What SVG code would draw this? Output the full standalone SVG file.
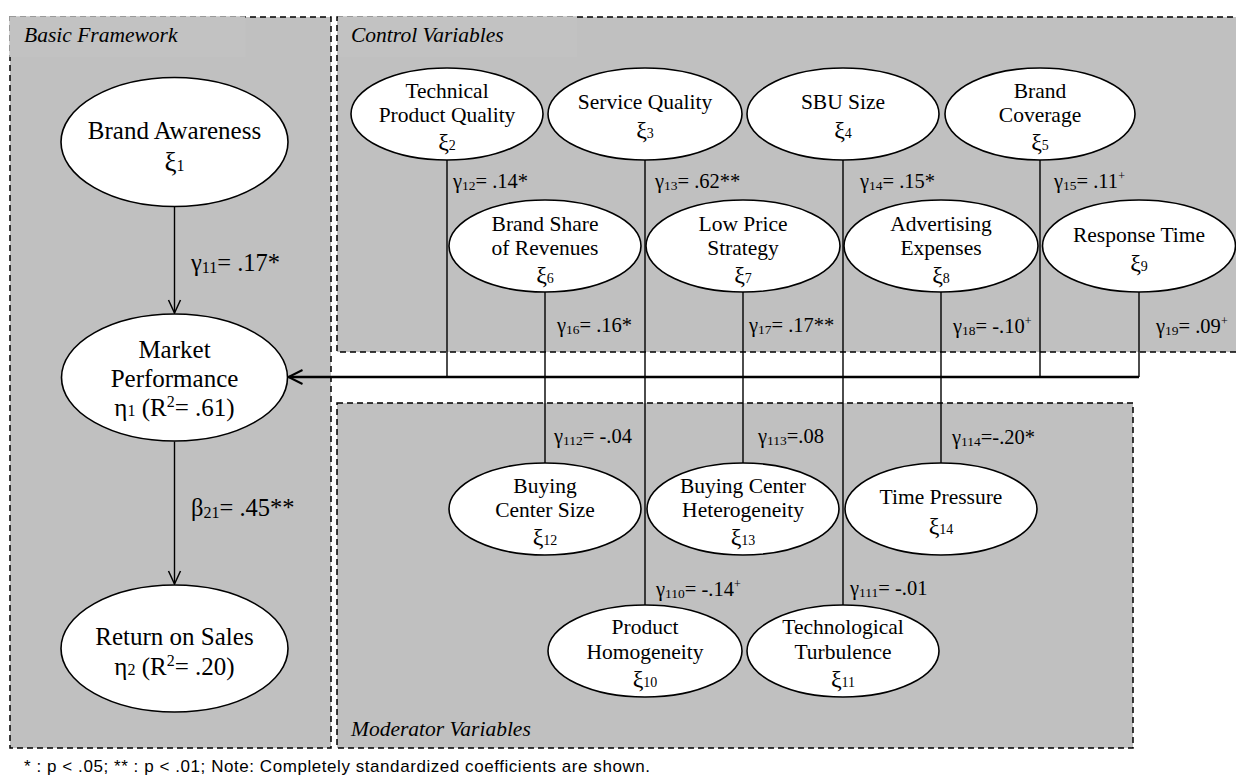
<svg xmlns="http://www.w3.org/2000/svg" width="1236" height="776" viewBox="0 0 1236 776">
<defs>
<style>
.panel{fill:#c0c0c0;stroke:#000;stroke-width:1.5;stroke-dasharray:6 4}
.cover{fill:#c2c2c2;stroke:none}
.plabel{font-family:"Liberation Serif","Times New Roman",serif;font-style:italic;font-size:21.5px;fill:#000}
.node ellipse{fill:#fff;stroke:#000;stroke-width:1.6}
.nt{font-family:"Liberation Serif","Times New Roman",serif;font-size:21.5px;fill:#000;text-anchor:middle}
.nb{font-family:"Liberation Serif","Times New Roman",serif;font-size:25px;fill:#000;text-anchor:middle}
.sub{font-size:14px}
.nb .sub{font-size:16px}
.xi{font-size:24px}
.nb .xi{font-size:27px}
.coef{font-family:"Liberation Serif","Times New Roman",serif;font-size:20.5px;fill:#000}
.coefb{font-family:"Liberation Serif","Times New Roman",serif;font-size:24.5px;fill:#000}
.cs{font-size:13.5px}
.coefb .cs{font-size:16px}
.sup{font-size:12px}
.ln{stroke:#000;stroke-width:1.4;fill:none}
.lnb{stroke:#000;stroke-width:2.4;fill:none}
.foot{font-family:"Liberation Sans",Arial,sans-serif;font-size:17px;fill:#000}
</style>
<marker id="arr" markerUnits="userSpaceOnUse" markerWidth="16" markerHeight="16" refX="14" refY="7" orient="auto">
<path d="M1,1 L14,7 L1,13" fill="none" stroke="#000" stroke-width="1.5"/>
</marker>
<marker id="arrb" markerUnits="userSpaceOnUse" markerWidth="18" markerHeight="18" refX="15" refY="8" orient="auto">
<path d="M1,1 L15,8 L1,15" fill="none" stroke="#000" stroke-width="2"/>
</marker>
</defs>
<rect width="1236" height="776" fill="#fff"/>

<g id="panels">
<rect class="panel" x="10" y="17" width="321" height="731"/>
<rect class="panel" x="337" y="17" width="902" height="335"/>
<rect class="panel" x="337" y="403" width="796" height="345"/>
<rect class="cover" x="9.3" y="16.3" width="236" height="40.7"/>
<rect class="cover" x="338" y="16.3" width="239" height="40.7"/>
<text class="plabel" x="24" y="42">Basic Framework</text>
<text class="plabel" x="351" y="42">Control Variables</text>
<text class="plabel" x="351" y="736">Moderator Variables</text>
</g>

<g id="connectors">
<path class="ln" d="M174.5,206.5 V313" marker-end="url(#arr)"/>
<path class="ln" d="M174.5,441.5 V584" marker-end="url(#arr)"/>
<path class="ln" d="M447,160 V377"/>
<path class="ln" d="M545,292 V463"/>
<path class="ln" d="M645,160 V605"/>
<path class="ln" d="M743,292 V463"/>
<path class="ln" d="M843,160 V605"/>
<path class="ln" d="M941,292 V463"/>
<path class="ln" d="M1040,160 V377"/>
<path class="ln" d="M1139,292 V377"/>
<path class="lnb" d="M1139,377 H288.5" marker-end="url(#arrb)"/>
<text class="coefb" x="191" y="271">γ<tspan class="cs" dy="2">11</tspan><tspan dy="-2">= .17*</tspan></text>
<text class="coefb" x="191" y="516">β<tspan class="cs" dy="2">21</tspan><tspan dy="-2">= .45**</tspan></text>
<text class="coef" x="453" y="188">γ<tspan class="cs" dy="2">12</tspan><tspan dy="-2">= .14*</tspan></text>
<text class="coef" x="655" y="188">γ<tspan class="cs" dy="2">13</tspan><tspan dy="-2">= .62**</tspan></text>
<text class="coef" x="860" y="188">γ<tspan class="cs" dy="2">14</tspan><tspan dy="-2">= .15*</tspan></text>
<text class="coef" x="1054" y="188">γ<tspan class="cs" dy="2">15</tspan><tspan dy="-2">= .11</tspan><tspan class="sup" dy="-8">+</tspan></text>
<text class="coef" x="557" y="332">γ<tspan class="cs" dy="2">16</tspan><tspan dy="-2">= .16*</tspan></text>
<text class="coef" x="749" y="332">γ<tspan class="cs" dy="2">17</tspan><tspan dy="-2">= .17**</tspan></text>
<text class="coef" x="953" y="333">γ<tspan class="cs" dy="2">18</tspan><tspan dy="-2">= -.10</tspan><tspan class="sup" dy="-8">+</tspan></text>
<text class="coef" x="1156" y="333">γ<tspan class="cs" dy="2">19</tspan><tspan dy="-2">= .09</tspan><tspan class="sup" dy="-8">+</tspan></text>
<text class="coef" x="554" y="443">γ<tspan class="cs" dy="2">112</tspan><tspan dy="-2">= -.04</tspan></text>
<text class="coef" x="758" y="443">γ<tspan class="cs" dy="2">113</tspan><tspan dy="-2">=.08</tspan></text>
<text class="coef" x="952" y="444">γ<tspan class="cs" dy="2">114</tspan><tspan dy="-2">=-.20*</tspan></text>
<text class="coef" x="656" y="596">γ<tspan class="cs" dy="2">110</tspan><tspan dy="-2">= -.14</tspan><tspan class="sup" dy="-8">+</tspan></text>
<text class="coef" x="850" y="595">γ<tspan class="cs" dy="2">111</tspan><tspan dy="-2">= -.01</tspan></text>
</g>

<g id="n-brand-awareness" class="node">
<ellipse cx="174.5" cy="142" rx="113.5" ry="64.5"/>
<text class="nb" x="174.5" y="139">Brand Awareness</text>
<text class="nb" x="174.5" y="171"><tspan class="xi">ξ</tspan><tspan class="sub">1</tspan></text>
</g>
<g id="n-market-performance" class="node">
<ellipse cx="174.5" cy="377.5" rx="113" ry="63.5"/>
<text class="nb" x="174.5" y="358">Market</text>
<text class="nb" x="174.5" y="387">Performance</text>
<text class="nb" x="174.5" y="416">η<tspan class="sub">1</tspan> (R<tspan class="sub" dy="-9">2</tspan><tspan dy="9">= .61)</tspan></text>
</g>
<g id="n-return-on-sales" class="node">
<ellipse cx="174.5" cy="648.5" rx="113.5" ry="63.5"/>
<text class="nb" x="174.5" y="645">Return on Sales</text>
<text class="nb" x="174.5" y="675">η<tspan class="sub">2</tspan> (R<tspan class="sub" dy="-9">2</tspan><tspan dy="9">= .20)</tspan></text>
</g>

<g id="n-xi2" class="node">
<ellipse cx="447" cy="114" rx="96" ry="46"/>
<text class="nt" x="447" y="98">Technical</text>
<text class="nt" x="447" y="122">Product Quality</text>
<text class="nt" x="447" y="150"><tspan class="xi">ξ</tspan><tspan class="sub">2</tspan></text>
</g>
<g id="n-xi3" class="node">
<ellipse cx="645" cy="114" rx="97" ry="46"/>
<text class="nt" x="645" y="109">Service Quality</text>
<text class="nt" x="645" y="138"><tspan class="xi">ξ</tspan><tspan class="sub">3</tspan></text>
</g>
<g id="n-xi4" class="node">
<ellipse cx="843" cy="114" rx="96" ry="46"/>
<text class="nt" x="843" y="109">SBU Size</text>
<text class="nt" x="843" y="138"><tspan class="xi">ξ</tspan><tspan class="sub">4</tspan></text>
</g>
<g id="n-xi5" class="node">
<ellipse cx="1040" cy="114" rx="95" ry="46"/>
<text class="nt" x="1040" y="98">Brand</text>
<text class="nt" x="1040" y="122">Coverage</text>
<text class="nt" x="1040" y="150"><tspan class="xi">ξ</tspan><tspan class="sub">5</tspan></text>
</g>
<g id="n-xi6" class="node">
<ellipse cx="545" cy="246" rx="96" ry="46"/>
<text class="nt" x="545" y="231">Brand Share</text>
<text class="nt" x="545" y="255">of Revenues</text>
<text class="nt" x="545" y="283"><tspan class="xi">ξ</tspan><tspan class="sub">6</tspan></text>
</g>
<g id="n-xi7" class="node">
<ellipse cx="743" cy="246" rx="97" ry="46"/>
<text class="nt" x="743" y="231">Low Price</text>
<text class="nt" x="743" y="255">Strategy</text>
<text class="nt" x="743" y="283"><tspan class="xi">ξ</tspan><tspan class="sub">7</tspan></text>
</g>
<g id="n-xi8" class="node">
<ellipse cx="941" cy="246" rx="97" ry="46"/>
<text class="nt" x="941" y="231">Advertising</text>
<text class="nt" x="941" y="255">Expenses</text>
<text class="nt" x="941" y="283"><tspan class="xi">ξ</tspan><tspan class="sub">8</tspan></text>
</g>
<g id="n-xi9" class="node">
<ellipse cx="1139" cy="246" rx="96.5" ry="46"/>
<text class="nt" x="1139" y="242">Response Time</text>
<text class="nt" x="1139" y="271"><tspan class="xi">ξ</tspan><tspan class="sub">9</tspan></text>
</g>
<g id="n-xi12" class="node">
<ellipse cx="545" cy="509" rx="96" ry="46"/>
<text class="nt" x="545" y="493">Buying</text>
<text class="nt" x="545" y="517">Center Size</text>
<text class="nt" x="545" y="545"><tspan class="xi">ξ</tspan><tspan class="sub">12</tspan></text>
</g>
<g id="n-xi13" class="node">
<ellipse cx="743" cy="509" rx="96" ry="46"/>
<text class="nt" x="743" y="493">Buying Center</text>
<text class="nt" x="743" y="517">Heterogeneity</text>
<text class="nt" x="743" y="545"><tspan class="xi">ξ</tspan><tspan class="sub">13</tspan></text>
</g>
<g id="n-xi14" class="node">
<ellipse cx="941" cy="509" rx="96" ry="46"/>
<text class="nt" x="941" y="504">Time Pressure</text>
<text class="nt" x="941" y="534"><tspan class="xi">ξ</tspan><tspan class="sub">14</tspan></text>
</g>
<g id="n-xi10" class="node">
<ellipse cx="645" cy="651" rx="97" ry="46"/>
<text class="nt" x="645" y="634">Product</text>
<text class="nt" x="645" y="659">Homogeneity</text>
<text class="nt" x="645" y="687"><tspan class="xi">ξ</tspan><tspan class="sub">10</tspan></text>
</g>
<g id="n-xi11" class="node">
<ellipse cx="843" cy="651" rx="96" ry="46"/>
<text class="nt" x="843" y="634">Technological</text>
<text class="nt" x="843" y="659">Turbulence</text>
<text class="nt" x="843" y="687"><tspan class="xi">ξ</tspan><tspan class="sub">11</tspan></text>
</g>

<text class="foot" x="24" y="772" textLength="626" lengthAdjust="spacing">*  : p &lt; .05; ** : p &lt; .01; Note: Completely standardized coefficients are shown.</text>
</svg>
